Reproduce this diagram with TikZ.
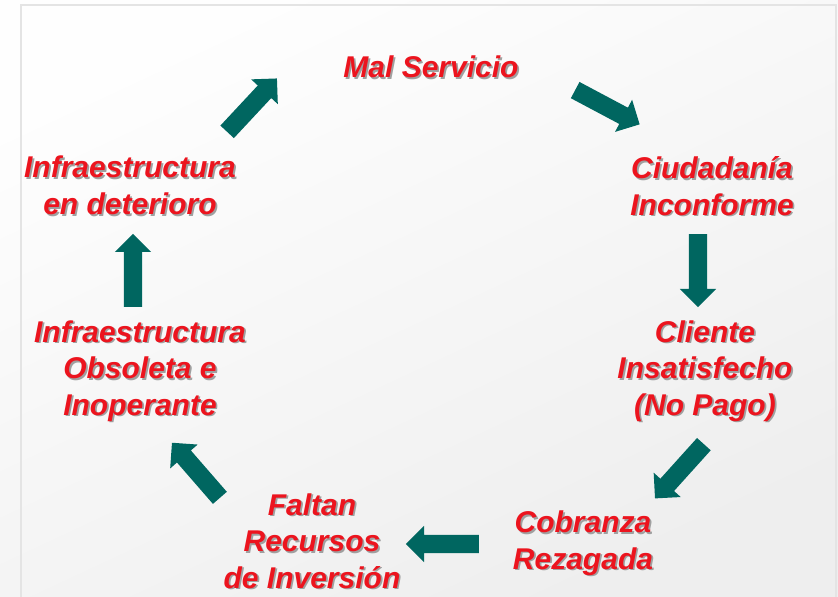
\documentclass[tikz,border=0pt]{standalone}
\usepackage{fontspec}
\setmainfont{Liberation Sans}
\usetikzlibrary{shapes.arrows}
\definecolor{cyclered}{RGB}{236,20,30}
\definecolor{cycleteal}{RGB}{0,102,96}
\definecolor{shadowgray}{RGB}{160,160,160}
\definecolor{framegray}{RGB}{228,228,228}
\definecolor{bglight}{RGB}{254,254,254}
\definecolor{bgdark}{RGB}{238,238,238}
\tikzset{
  labeltext/.style={font=\fontsize{30}{36.5}\selectfont\bfseries\itshape, align=center, inner sep=0pt, text=cyclered},
  labelshadow/.style={labeltext, text=shadowgray},
  cyclearrow/.style={single arrow, fill=cycleteal, draw=none, minimum height=73pt, minimum width=36pt, single arrow head extend=9pt, inner xsep=0pt, inner ysep=9pt, anchor=tail},
}
\newcommand{\cyclelabel}[4]{%
  \node[labelshadow] (#1s) at (#2+1.7,#3-1.7) {#4};
  \node[labeltext] (#1) at (#2,#3) {#4};
}
\begin{document}
\begin{tikzpicture}[x=1pt,y=1pt]
\useasboundingbox (0,0) rectangle (838,597);
\shade[shading=axis, top color=bglight, bottom color=bgdark, shading angle=25] (0,0) rectangle (838,597);
\draw[framegray, line width=2pt] (21,-2) -- (21,592) -- (836,592) -- (836,-2);
% labels
\cyclelabel{ms}{431}{530}{Mal Servicio}
\cyclelabel{ci}{712}{411}{Ciudadanía\\Inconforme}
\cyclelabel{cl}{705}{226}{Cliente\\Insatisfecho\\(No Pago)}
\cyclelabel{co}{583}{54}{Cobranza\\Rezagada}
\cyclelabel{fa}{312}{56}{Faltan\\Recursos\\de Inversión}
\cyclelabel{io}{140}{226}{Infraestructura\\Obsoleta e\\Inoperante}
\cyclelabel{id}{130}{411.5}{Infraestructura\\en deterioro}
% arrows
\node[cyclearrow, rotate=-28] (a1) at (575,507) {};
\node[cyclearrow, rotate=-90] (a2) at (698,363) {};
\node[cyclearrow, rotate=228] (a3) at (704,153) {};
\node[cyclearrow, rotate=180] (a4) at (479,53) {};
\node[cyclearrow, rotate=131] (a5) at (220,99) {};
\node[cyclearrow, rotate=90] (a6) at (133,290) {};
\node[cyclearrow, rotate=47] (a7) at (227,465) {};
\end{tikzpicture}
\end{document}
